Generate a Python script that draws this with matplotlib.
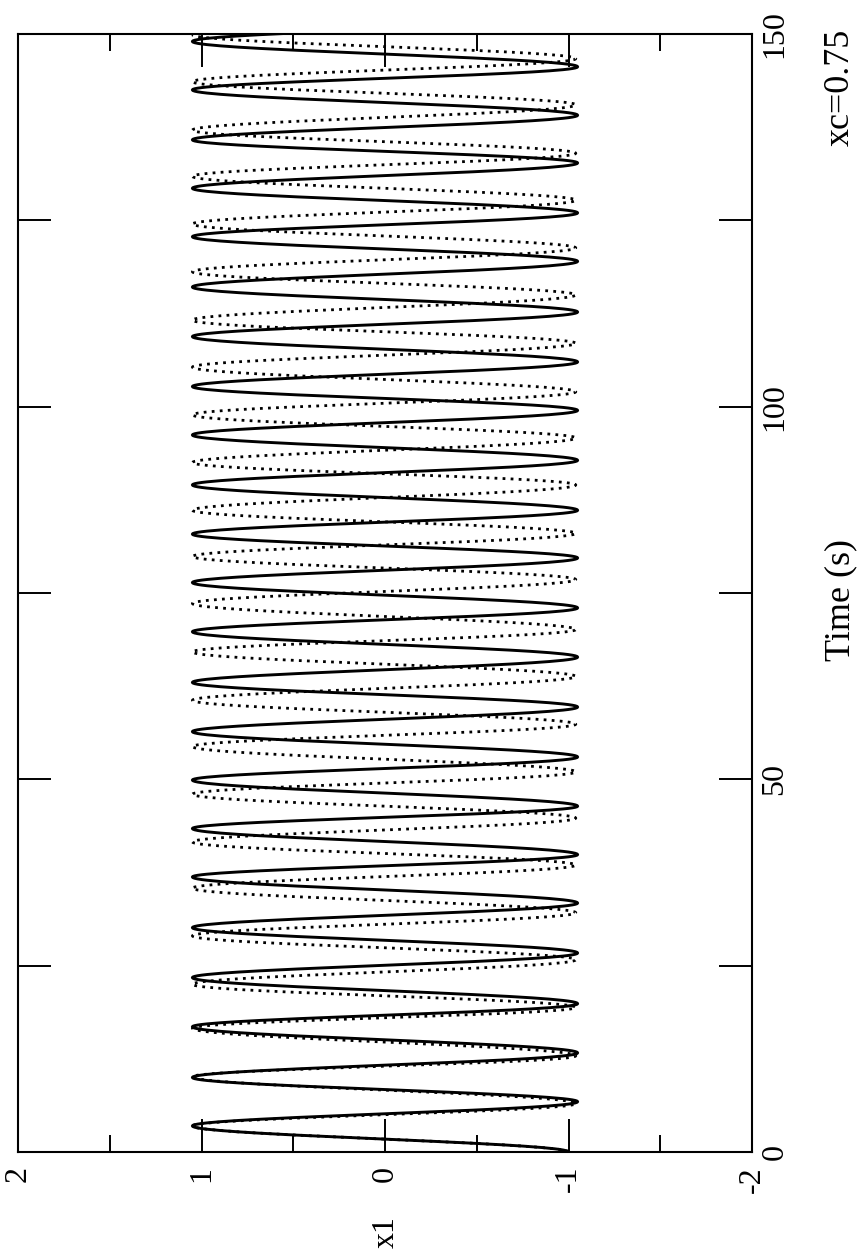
import matplotlib
matplotlib.use("Agg")
import matplotlib.pyplot as plt
import numpy as np

plt.rcParams['font.family'] = ['Liberation Serif', 'DejaVu Serif']
plt.rcParams['axes.unicode_minus'] = False

# turning points of x1 (time in s, value) for the two runs
solid_t = [0.0, 3.5, 6.75, 10.0, 13.3, 16.8, 19.9, 23.4, 26.7, 30.1, 33.4, 36.9,
           39.9, 43.4, 46.4, 49.9, 53.0, 56.4, 59.7, 63.0, 66.4, 69.8, 73.0, 76.4,
           79.7, 82.9, 86.1, 89.5, 92.8, 96.2, 99.5, 102.7, 106.0, 109.4, 112.7,
           116.05, 119.5, 122.8, 126.0, 129.3, 132.7, 135.8, 139.1, 142.5, 145.6,
           149.0, 152.3]
solid_x = [-1.0, 1.05, -1.05, 1.05, -1.05, 1.05, -1.05, 1.05, -1.05, 1.05, -1.05, 1.05,
           -1.05, 1.05, -1.05, 1.05, -1.05, 1.05, -1.05, 1.05, -1.05, 1.05, -1.05, 1.05,
           -1.05, 1.05, -1.05, 1.05, -1.05, 1.05, -1.05, 1.05, -1.05, 1.05, -1.05,
           1.05, -1.05, 1.05, -1.05, 1.05, -1.05, 1.05, -1.05, 1.05, -1.05,
           1.05, -1.05]

dotted_t = [0.0, 3.5, 6.5, 10.1, 12.9, 16.6, 19.4, 22.5, 25.8, 29.0, 32.1, 35.4,
            38.5, 41.6, 44.8, 48.0, 51.0, 54.4, 57.4, 60.6, 63.8, 67.1, 70.1, 73.6,
            76.8, 79.9, 83.0, 86.1, 89.5, 92.5, 95.8, 98.9, 102.0, 105.3, 108.5,
            111.6, 115.0, 118.1, 121.3, 124.5, 127.7, 130.9, 134.0, 137.1, 140.5,
            143.6, 146.7, 149.9]
dotted_x = [-1.0, 1.05, -1.04, 1.05, -1.04, 1.05, -1.04, 1.05, -1.04, 1.05, -1.04, 1.05,
            -1.04, 1.05, -1.04, 1.05, -1.04, 1.05, -1.04, 1.05, -1.04, 1.05, -1.04, 1.05,
            -1.04, 1.05, -1.04, 1.05, -1.04, 1.05, -1.04, 1.05, -1.04, 1.05, -1.04,
            1.05, -1.04, 1.05, -1.04, 1.05, -1.04, 1.05, -1.04, 1.05, -1.04,
            1.05, -1.04, 1.05]

x1_ticks = [2, 1, 0, -1, -2]
x1_minor = [1.5, 0.5, -0.5, -1.5]
time_ticks = [0, 25, 50, 75, 100, 125, 150]
time_labels = ['0', '', '50', '', '100', '', '150']


def swing(times, levels, n=40):
    """Join successive turning points with half-cosine arcs."""
    ts, xs = [], []
    for i in range(len(times) - 1):
        s = np.linspace(0, 1, n, endpoint=False)
        ts.append(times[i] + (times[i + 1] - times[i]) * s)
        xs.append(levels[i] + (levels[i + 1] - levels[i]) * (1 - np.cos(np.pi * s)) / 2)
    ts.append([times[-1]])
    xs.append([levels[-1]])
    return np.concatenate(ts), np.concatenate(xs)


W, H = 857, 1254
fig = plt.figure(figsize=(W / 100, H / 100), dpi=100)
ax = fig.add_axes([18 / W, (H - 1152) / H, (752 - 18) / W, (1152 - 34) / H])

t, x = swing(solid_t, solid_x)
ax.plot(x, t, color='black', lw=2.1, solid_joinstyle='round')
t, x = swing(dotted_t, dotted_x)
ax.plot(x, t, color='black', lw=2.0, linestyle=(0, (1, 1.9)), dash_capstyle='butt')

ax.set_xlim(2, -2)
ax.set_ylim(0, 150)

ax.set_xticks(x1_ticks)
ax.set_xticklabels([str(v) for v in x1_ticks])
ax.set_xticks(x1_minor, minor=True)
ax.set_yticks(time_ticks)
ax.set_yticklabels(time_labels)

for side in ax.spines.values():
    side.set_linewidth(1.5)

ax.tick_params(axis='both', which='major', direction='in', length=24, width=1.4,
               labelsize=23)
ax.tick_params(axis='x', which='minor', direction='in', length=12, width=1.4,
               top=True, bottom=True)
ax.tick_params(axis='x', which='both', top=True, bottom=True, labeltop=False,
               labelbottom=True, labelrotation=90, pad=10)
ax.tick_params(axis='y', which='both', left=True, right=True, labelleft=False,
               labelright=True, labelrotation=90, pad=6)
for lab in ax.get_yticklabels():
    lab.set_verticalalignment('center')

fig.text(841 / W, 1 - 600 / H, 'Time (s)', rotation=90, ha='center', va='center',
         fontsize=26)
fig.text(840 / W, 1 - 87 / H, 'xc=0.75', rotation=90, ha='center', va='center',
         fontsize=26)
fig.text(386 / W, 1 - 1232 / H, 'x1', rotation=90, ha='center', va='center',
         fontsize=23)

fig.savefig('out.png', dpi=100, facecolor='white')
